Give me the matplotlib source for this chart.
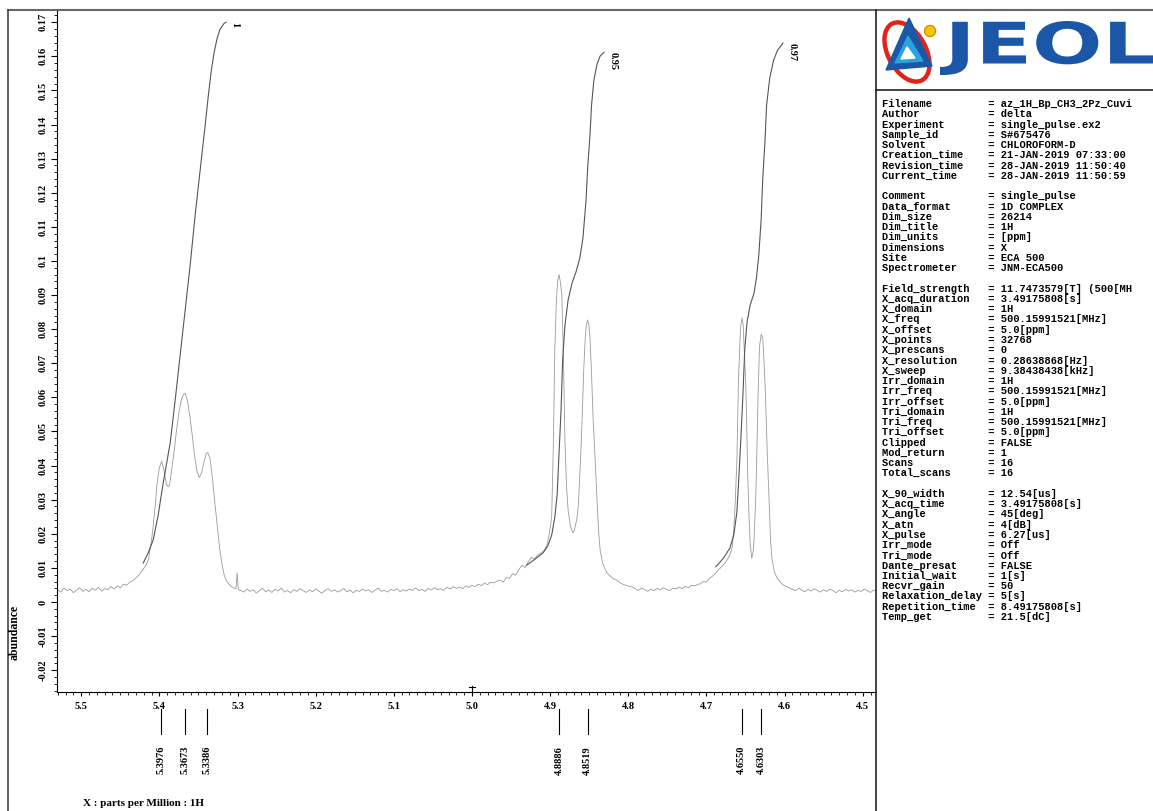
import numpy as np
import matplotlib.pyplot as plt
from matplotlib.lines import Line2D
from matplotlib.patches import Polygon, Ellipse, Circle, PathPatch
from matplotlib.textpath import TextPath
from matplotlib.font_manager import FontProperties
from matplotlib.transforms import Affine2D, blended_transform_factory
from matplotlib.ticker import MultipleLocator, FuncFormatter

# ---- spectrum trace (ppm, abundance) ----
ppm_base_left = [5.530, 5.526, 5.522, 5.518, 5.514, 5.510, 5.506, 5.502, 5.498, 5.494,
                 5.490, 5.486, 5.482, 5.478, 5.474, 5.470, 5.466, 5.462, 5.458, 5.454,
                 5.450, 5.446, 5.442, 5.438, 5.434, 5.430, 5.426]
abund_base_left = [0.0036, 0.0029, 0.0041, 0.0033, 0.0038, 0.0027, 0.0035, 0.0042, 0.0031, 0.0037,
                   0.0030, 0.0040, 0.0034, 0.0043, 0.0032, 0.0039, 0.0036, 0.0045, 0.0038, 0.0047,
                   0.0041, 0.0052, 0.0049, 0.0058, 0.0062, 0.0071, 0.0079]

ppm_group1 = [5.421, 5.417, 5.414, 5.411, 5.408, 5.405, 5.403, 5.400, 5.397, 5.394,
              5.391, 5.389, 5.387, 5.384, 5.381, 5.378, 5.375, 5.372, 5.369, 5.367,
              5.364, 5.361, 5.358, 5.355, 5.352, 5.349, 5.346, 5.343, 5.340, 5.338,
              5.335, 5.332, 5.329, 5.326, 5.323, 5.320, 5.317, 5.314, 5.311, 5.308,
              5.305, 5.302, 5.3005, 5.299]
abund_group1 = [0.0095, 0.0108, 0.0125, 0.0165, 0.0220, 0.0290, 0.0345, 0.0395, 0.0412, 0.0385,
                0.0345, 0.0338, 0.0342, 0.0392, 0.0445, 0.0505, 0.0555, 0.0592, 0.0610, 0.0612,
                0.0590, 0.0545, 0.0490, 0.0430, 0.0385, 0.0365, 0.0378, 0.0410, 0.0436, 0.0438,
                0.0418, 0.0360, 0.0290, 0.0225, 0.0160, 0.0112, 0.0078, 0.0061, 0.0052, 0.0046,
                0.0041, 0.0039, 0.0085, 0.0036]

ppm_base_mid = [5.296, 5.292, 5.288, 5.284, 5.280, 5.276, 5.272, 5.268, 5.264, 5.260,
                5.256, 5.252, 5.248, 5.244, 5.240, 5.236, 5.232, 5.228, 5.224, 5.220,
                5.216, 5.212, 5.208, 5.204, 5.200, 5.196, 5.192, 5.188, 5.184, 5.180,
                5.176, 5.172, 5.168, 5.164, 5.160, 5.156, 5.152, 5.148, 5.144, 5.140,
                5.136, 5.132, 5.128, 5.124, 5.120, 5.116, 5.112, 5.108, 5.104, 5.100,
                5.096, 5.092, 5.088, 5.084, 5.080, 5.076, 5.072, 5.068, 5.064, 5.060,
                5.056, 5.052, 5.048, 5.044, 5.040, 5.036, 5.032, 5.028, 5.024, 5.020,
                5.016, 5.012, 5.008, 5.004, 5.000, 4.996, 4.992, 4.988, 4.984, 4.980,
                4.976, 4.972, 4.968]
abund_base_mid = [0.0034, 0.0029, 0.0038, 0.0031, 0.0036, 0.0026, 0.0033, 0.0040, 0.0030, 0.0035,
                  0.0028, 0.0037, 0.0032, 0.0041, 0.0029, 0.0034, 0.0027, 0.0036, 0.0031, 0.0039,
                  0.0033, 0.0028, 0.0035, 0.0030, 0.0038, 0.0032, 0.0026, 0.0034, 0.0039, 0.0031,
                  0.0036, 0.0029, 0.0033, 0.0040, 0.0030, 0.0035, 0.0027, 0.0034, 0.0031, 0.0038,
                  0.0032, 0.0036, 0.0028, 0.0035, 0.0041, 0.0031, 0.0034, 0.0029, 0.0037, 0.0033,
                  0.0039, 0.0030, 0.0036, 0.0032, 0.0038, 0.0034, 0.0041, 0.0033, 0.0037, 0.0031,
                  0.0040, 0.0035, 0.0042, 0.0036, 0.0039, 0.0034, 0.0043, 0.0038, 0.0045, 0.0040,
                  0.0044, 0.0039, 0.0047, 0.0043, 0.0049, 0.0045, 0.0052, 0.0048, 0.0055, 0.0051,
                  0.0058, 0.0056, 0.0061]

ppm_group2 = [4.964, 4.960, 4.956, 4.952, 4.948, 4.944, 4.940, 4.936, 4.932, 4.928,
              4.924, 4.920, 4.916, 4.912, 4.908, 4.904, 4.901, 4.898, 4.896, 4.894,
              4.892, 4.8905, 4.8886, 4.887, 4.885, 4.883, 4.881, 4.879, 4.877, 4.874,
              4.871, 4.869, 4.866, 4.864, 4.861, 4.859, 4.857, 4.855, 4.8535, 4.852,
              4.8505, 4.849, 4.847, 4.845, 4.842, 4.840, 4.838, 4.836, 4.833, 4.830,
              4.827, 4.823, 4.819, 4.815, 4.811, 4.807, 4.803, 4.799, 4.795]
abund_group2 = [0.0064, 0.0058, 0.0072, 0.0069, 0.0083, 0.0079, 0.0095, 0.0108, 0.0101, 0.0118,
                0.0131, 0.0126, 0.0138, 0.0143, 0.0150, 0.0166, 0.0200, 0.0250, 0.0446, 0.0740,
                0.0880, 0.0940, 0.0960, 0.0940, 0.0900, 0.0720, 0.0470, 0.0340, 0.0270, 0.0222,
                0.0203, 0.0210, 0.0240, 0.0280, 0.0420, 0.0540, 0.0680, 0.0777, 0.0815, 0.0827,
                0.0815, 0.0777, 0.0670, 0.0540, 0.0400, 0.0300, 0.0210, 0.0152, 0.0115, 0.0098,
                0.0085, 0.0076, 0.0068, 0.0064, 0.0057, 0.0052, 0.0049, 0.0046, 0.0044]

ppm_base_mid2 = [4.791, 4.787, 4.783, 4.779, 4.775, 4.771, 4.767, 4.763, 4.759, 4.755,
                 4.751, 4.747, 4.743, 4.739, 4.735, 4.731, 4.727, 4.723, 4.719, 4.715, 4.711]
abund_base_mid2 = [0.0039, 0.0034, 0.0041, 0.0036, 0.0031, 0.0038, 0.0033, 0.0040, 0.0035, 0.0042,
                   0.0037, 0.0033, 0.0041, 0.0038, 0.0044, 0.0039, 0.0046, 0.0042, 0.0049, 0.0047, 0.0052]

ppm_group3 = [4.708, 4.704, 4.700, 4.696, 4.692, 4.688, 4.685, 4.682, 4.679, 4.676,
              4.673, 4.670, 4.667, 4.665, 4.663, 4.661, 4.659, 4.657, 4.656, 4.6545,
              4.653, 4.652, 4.650, 4.649, 4.647, 4.645, 4.644, 4.642, 4.640, 4.639,
              4.637, 4.636, 4.634, 4.632, 4.630, 4.628, 4.627, 4.625, 4.624, 4.622,
              4.621, 4.619, 4.618, 4.616, 4.613, 4.610, 4.606, 4.602, 4.598, 4.594]
abund_group3 = [0.0053, 0.0060, 0.0058, 0.0070, 0.0076, 0.0085, 0.0094, 0.0100, 0.0108, 0.0114,
                0.0125, 0.0138, 0.0160, 0.0210, 0.0300, 0.0416, 0.0650, 0.0770, 0.0810, 0.0833,
                0.0815, 0.0760, 0.0660, 0.0580, 0.0358, 0.0220, 0.0170, 0.0128, 0.0150, 0.0185,
                0.0300, 0.0380, 0.0600, 0.0750, 0.0785, 0.0775, 0.0740, 0.0640, 0.0570, 0.0430,
                0.0370, 0.0250, 0.0180, 0.0125, 0.0088, 0.0072, 0.0060, 0.0050, 0.0046, 0.0041]

ppm_base_right = [4.590, 4.586, 4.582, 4.578, 4.574, 4.570, 4.566, 4.562, 4.558, 4.554,
                  4.550, 4.546, 4.542, 4.538, 4.534, 4.530, 4.526, 4.522, 4.518, 4.514,
                  4.510, 4.506, 4.502, 4.498, 4.494, 4.490, 4.486, 4.482]
abund_base_right = [0.0038, 0.0033, 0.0040, 0.0035, 0.0030, 0.0037, 0.0032, 0.0039, 0.0034, 0.0029,
                    0.0036, 0.0031, 0.0038, 0.0033, 0.0027, 0.0035, 0.0030, 0.0037, 0.0032, 0.0036,
                    0.0029, 0.0034, 0.0031, 0.0038, 0.0033, 0.0028, 0.0035, 0.0031]

# ---- integral curves ----
int1_ppm = [5.4207, 5.4143, 5.4079, 5.4015, 5.3951, 5.3862, 5.3798, 5.3734, 5.3670,
            5.3606, 5.3542, 5.3478, 5.3414, 5.3376, 5.3338, 5.3299, 5.3261, 5.3223,
            5.3171, 5.3146]
int1_val = [0.0114, 0.0144, 0.0182, 0.0255, 0.0349, 0.0466, 0.0592, 0.0724, 0.0856,
            0.0988, 0.1135, 0.1267, 0.1398, 0.1480, 0.1554, 0.1612, 0.1653, 0.1680,
            0.1697, 0.1700]
int2_ppm = [4.930, 4.919, 4.909, 4.903, 4.898, 4.894, 4.891, 4.889, 4.886, 4.884, 4.881, 4.877,
            4.872, 4.867, 4.862, 4.858, 4.854, 4.852, 4.849, 4.847, 4.844, 4.840, 4.836, 4.831]
int2_val = [0.0108, 0.0126, 0.0144, 0.0164, 0.0196, 0.0249, 0.0314, 0.0416, 0.0563, 0.0709, 0.0812,
            0.0885, 0.0935, 0.0967, 0.1008, 0.1067, 0.1179, 0.1272, 0.1369, 0.1457, 0.1530,
            0.1577, 0.1601, 0.1612]
int3_ppm = [4.688, 4.678, 4.670, 4.665, 4.661, 4.659, 4.656, 4.653, 4.651, 4.648, 4.644,
            4.639, 4.636, 4.633, 4.630, 4.628, 4.625, 4.623, 4.619, 4.614, 4.609, 4.602]
int3_val = [0.0103, 0.0129, 0.0158, 0.0196, 0.0264, 0.0343, 0.0475, 0.0622, 0.0739, 0.0821, 0.0871,
            0.0906, 0.0950, 0.1017, 0.1120, 0.1237, 0.1354, 0.1457, 0.1536, 0.1589, 0.1618, 0.1639]
integral_labels = ['1', '0.95', '0.97']

peak_ppm = [5.3976, 5.3673, 5.3386, 4.8886, 4.8519, 4.6550, 4.6303]

info_rows = [
    ('Filename', 'az_1H_Bp_CH3_2Pz_Cuvi'), ('Author', 'delta'),
    ('Experiment', 'single_pulse.ex2'), ('Sample_id', 'S#675476'),
    ('Solvent', 'CHLOROFORM-D'), ('Creation_time', '21-JAN-2019 07:33:00'),
    ('Revision_time', '28-JAN-2019 11:50:40'), ('Current_time', '28-JAN-2019 11:50:59'),
    None,
    ('Comment', 'single_pulse'), ('Data_format', '1D COMPLEX'), ('Dim_size', '26214'),
    ('Dim_title', '1H'), ('Dim_units', '[ppm]'), ('Dimensions', 'X'),
    ('Site', 'ECA 500'), ('Spectrometer', 'JNM-ECA500'),
    None,
    ('Field_strength', '11.7473579[T] (500[MH'), ('X_acq_duration', '3.49175808[s]'),
    ('X_domain', '1H'), ('X_freq', '500.15991521[MHz]'), ('X_offset', '5.0[ppm]'),
    ('X_points', '32768'), ('X_prescans', '0'), ('X_resolution', '0.28638868[Hz]'),
    ('X_sweep', '9.38438438[kHz]'), ('Irr_domain', '1H'), ('Irr_freq', '500.15991521[MHz]'),
    ('Irr_offset', '5.0[ppm]'), ('Tri_domain', '1H'), ('Tri_freq', '500.15991521[MHz]'),
    ('Tri_offset', '5.0[ppm]'), ('Clipped', 'FALSE'), ('Mod_return', '1'),
    ('Scans', '16'), ('Total_scans', '16'),
    None,
    ('X_90_width', '12.54[us]'), ('X_acq_time', '3.49175808[s]'), ('X_angle', '45[deg]'),
    ('X_atn', '4[dB]'), ('X_pulse', '6.27[us]'), ('Irr_mode', 'Off'), ('Tri_mode', 'Off'),
    ('Dante_presat', 'FALSE'), ('Initial_wait', '1[s]'), ('Recvr_gain', '50'),
    ('Relaxation_delay', '5[s]'), ('Repetition_time', '8.49175808[s]'), ('Temp_get', '21.5[dC]'),
]

plt.rcParams['font.family'] = 'Liberation Serif'
plt.rcParams['font.weight'] = 'bold'

W, H = 1153, 811
fig = plt.figure(figsize=(W / 100, H / 100), dpi=100, facecolor='white')

# main spectrum axes
ax = fig.add_axes([57 / W, 1 - 692 / H, (876 - 57) / W, (692 - 10) / H])
spec_ppm = np.concatenate([ppm_base_left, ppm_group1, ppm_base_mid, ppm_group2,
                           ppm_base_mid2, ppm_group3, ppm_base_right])
spec_val = np.concatenate([abund_base_left, abund_group1, abund_base_mid, abund_group2,
                           abund_base_mid2, abund_group3, abund_base_right])
ax.plot(spec_ppm, spec_val, color='#9a9a9a', lw=0.6)
for xs, ys, lab in zip([int1_ppm, int2_ppm, int3_ppm], [int1_val, int2_val, int3_val], integral_labels):
    ax.plot(xs, ys, color='#555555', lw=0.8)
    ax.annotate(lab, (xs[-1], ys[-1]), xytext=(3, 0), textcoords='offset points',
                rotation=-90, ha='left', va='top', fontsize=7.5)

ax.set_xlim(5.531, 4.483)
ax.set_ylim(-0.0264, 0.1736)
ax.spines['top'].set_visible(False)
ax.spines['right'].set_visible(False)
ax.xaxis.set_major_locator(MultipleLocator(0.1))
ax.xaxis.set_minor_locator(MultipleLocator(0.01))
ax.xaxis.set_major_formatter(FuncFormatter(lambda v, p: '%.1f' % v))
ax.yaxis.set_major_locator(MultipleLocator(0.01))
ax.yaxis.set_minor_locator(MultipleLocator(0.002))
ax.yaxis.set_major_formatter(FuncFormatter(lambda v, p: '0' if abs(v) < 1e-9 else '%g' % round(v, 2)))
ax.tick_params(axis='x', which='major', length=3, width=0.8, pad=4, labelsize=7.5)
ax.tick_params(axis='x', which='minor', length=2.5, width=0.6)
ax.tick_params(axis='y', which='major', length=4, width=0.8, pad=2.5, labelsize=7.5, labelrotation=90)
ax.tick_params(axis='y', which='minor', length=2, width=0.6)
for lab in ax.get_yticklabels():
    lab.set_va('center')

# small reference mark at 5.0 ppm
bt = blended_transform_factory(ax.transData, ax.transAxes)
ax.plot([5.0, 5.0], [0, 0.009], transform=bt, color='black', lw=0.8, clip_on=False)
ax.plot([5.004, 4.996], [0.007, 0.007], transform=bt, color='black', lw=0.8, clip_on=False)

# peak picks below the axis
for p in peak_ppm:
    ax.plot([p, p], [-0.0249, -0.0616], transform=bt, color='black', lw=0.8, clip_on=False)
    ax.text(p, -0.0792, '%.4f' % p, transform=bt, rotation=90, ha='center', va='top', fontsize=7.5)

fig.text(15 / W, 1 - 632 / H, 'abundance', rotation=90, ha='center', va='center', fontsize=8.5)
fig.text(83 / W, 1 - 804 / H, 'X : parts per Million : 1H', ha='left', va='center', fontsize=8)

# frame lines
fig.add_artist(Line2D([8 / W, 1], [1 - 10 / H, 1 - 10 / H], color='#666666', lw=1.5))
fig.add_artist(Line2D([8 / W, 8 / W], [0, 1 - 10 / H], color='#444444', lw=1.2))
fig.add_artist(Line2D([876 / W, 876 / W], [0, 1 - 10 / H], color='#222222', lw=1.2))
fig.add_artist(Line2D([876 / W, 1], [1 - 90 / H, 1 - 90 / H], color='#222222', lw=1.2))

# logo
lax = fig.add_axes([877 / W, 1 - 89 / H, 276 / W, 78 / H])
lax.set_xlim(877, 1153)
lax.set_ylim(89, 11)
lax.axis('off')
lax.add_patch(Ellipse((907, 52), 38, 64, angle=-28, fill=False, edgecolor='#e2231a', lw=3.2))
lax.add_patch(Polygon([(909, 18), (886, 70), (932, 66)], closed=True, color='#1b57a6'))
lax.add_patch(Polygon([(908, 36), (895, 63), (923, 61)], closed=True, color='#2aa3dd'))
lax.add_patch(Polygon([(907, 47), (901, 59), (915, 58)], closed=True, color='white'))
lax.add_patch(Circle((930, 31), 5.5, facecolor='#f7c600', edgecolor='#e08a00', lw=1))
tp = TextPath((0, 0), 'JEOL', size=100, prop=FontProperties(family='DejaVu Sans', weight='bold'))
bb = tp.get_extents()
tr = Affine2D().translate(-bb.x0, -bb.y0).scale(213 / bb.width, -54 / bb.height).translate(940, 75)
lax.add_patch(PathPatch(tr.transform_path(tp), facecolor='#1b57a6', edgecolor='none'))

# parameter listing
for i, row in enumerate(info_rows):
    if row is None:
        continue
    fig.text(882 / W, 1 - (104 + i * 10.26) / H, '%-17s= %s' % row, family='Liberation Mono',
             fontsize=7.5, weight='bold', va='center', ha='left')

fig.savefig('out.png', dpi=100, facecolor='white')
